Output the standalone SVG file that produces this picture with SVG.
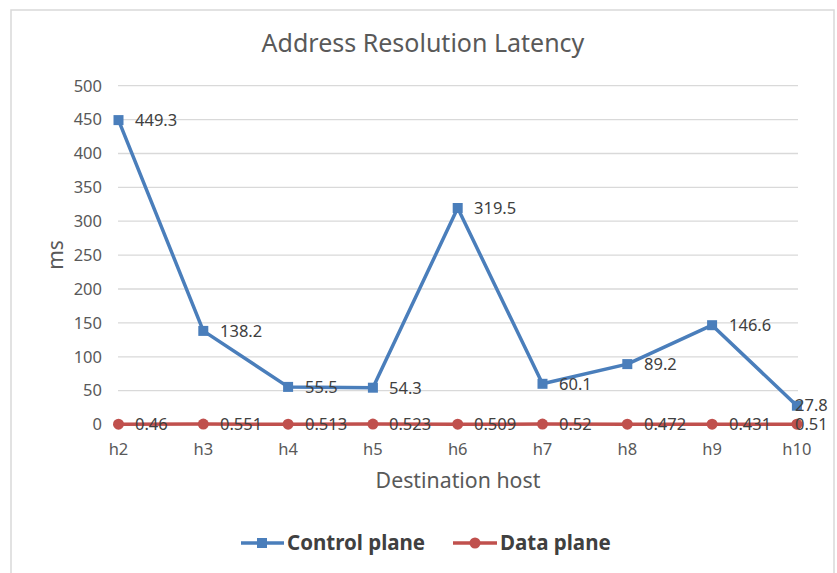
<svg xmlns="http://www.w3.org/2000/svg" width="837" height="573" viewBox="0 0 837 573">
  <defs>
    <style>
      text { font-family: "Noto Sans", "Open Sans", "Liberation Sans", sans-serif; fill: #595959; }
      .tick { font-size: 16.5px; }
      .ylab { text-anchor: end; }
      .xlab { text-anchor: middle; }
      .dl { font-size: 16.5px; fill: #404040; }
      .grid { stroke: #d9d9d9; stroke-width: 1.3; }
      .ctrl { fill: none; stroke: #4a7ebb; stroke-width: 3.5; stroke-linejoin: round; }
      .data { fill: none; stroke: #c0504d; stroke-width: 3.5; stroke-linejoin: round; }
      .sq { fill: #4a7ebb; }
      .dot { fill: #c0504d; }
      .leg { font-size: 20.5px; font-weight: bold; fill: #404040; }
    </style>
  </defs>

  <!-- chart area -->
  <rect x="0" y="0" width="837" height="573" fill="#ffffff"/>
  <rect x="11" y="10" width="823" height="600" fill="#ffffff" stroke="#d9d9d9" stroke-width="1.5"/>

  <text x="423" y="52" text-anchor="middle" font-size="25">Address Resolution Latency</text>

  <!-- gridlines -->
  <g id="grid">
    <line class="grid" x1="118" y1="85.7" x2="798" y2="85.7"/>
    <line class="grid" x1="118" y1="119.6" x2="798" y2="119.6"/>
    <line class="grid" x1="118" y1="153.5" x2="798" y2="153.5"/>
    <line class="grid" x1="118" y1="187.4" x2="798" y2="187.4"/>
    <line class="grid" x1="118" y1="221.2" x2="798" y2="221.2"/>
    <line class="grid" x1="118" y1="255.1" x2="798" y2="255.1"/>
    <line class="grid" x1="118" y1="289.0" x2="798" y2="289.0"/>
    <line class="grid" x1="118" y1="322.9" x2="798" y2="322.9"/>
    <line class="grid" x1="118" y1="356.8" x2="798" y2="356.8"/>
    <line class="grid" x1="118" y1="390.6" x2="798" y2="390.6"/>
    <line class="grid" x1="118" y1="424.5" x2="798" y2="424.5"/>
  </g>

  <!-- value axis -->
  <g id="y-axis" class="tick ylab">
    <text x="102" y="91.5">500</text>
    <text x="102" y="125.4">450</text>
    <text x="102" y="159.3">400</text>
    <text x="102" y="193.2">350</text>
    <text x="102" y="227.0">300</text>
    <text x="102" y="260.9">250</text>
    <text x="102" y="294.8">200</text>
    <text x="102" y="328.7">150</text>
    <text x="102" y="362.6">100</text>
    <text x="102" y="396.4">50</text>
    <text x="102" y="430.3">0</text>
  </g>
  <text transform="translate(63,255) rotate(-90)" text-anchor="middle" font-size="21">ms</text>

  <!-- category axis -->
  <g id="x-axis" class="tick xlab">
    <text x="118.5" y="455">h2</text>
    <text x="203.3" y="455">h3</text>
    <text x="288.1" y="455">h4</text>
    <text x="372.9" y="455">h5</text>
    <text x="457.7" y="455">h6</text>
    <text x="542.5" y="455">h7</text>
    <text x="627.3" y="455">h8</text>
    <text x="712.1" y="455">h9</text>
    <text x="796.9" y="455">h10</text>
  </g>
  <text x="458" y="488" text-anchor="middle" font-size="21.3">Destination host</text>

  <!-- series lines -->
  <g id="connectors">
    <polyline id="control-line" class="ctrl" points="118.5,120.1 203.3,330.9 288.1,386.9 372.9,387.7 457.7,208.0 542.5,383.8 627.3,364.1 712.1,325.2 796.9,405.7"/>
    <polyline id="data-line" class="data" points="118.5,424.2 203.3,424.1 288.1,424.2 372.9,424.1 457.7,424.2 542.5,424.1 627.3,424.2 712.1,424.2 796.9,424.2"/>
  </g>

  <!-- control plane points -->
  <g id="control-points">
    <g id="c-h2"><rect class="sq" x="113.5" y="115.1" width="10" height="10"/><text class="dl" x="135" y="126">449.3</text></g>
    <g id="c-h3"><rect class="sq" x="198.3" y="325.9" width="10" height="10"/><text class="dl" x="220" y="337">138.2</text></g>
    <g id="c-h4"><rect class="sq" x="283.1" y="381.9" width="10" height="10"/><text class="dl" x="305" y="393">55.5</text></g>
    <g id="c-h5"><rect class="sq" x="367.9" y="382.7" width="10" height="10"/><text class="dl" x="389" y="394">54.3</text></g>
    <g id="c-h6"><rect class="sq" x="452.7" y="203.0" width="10" height="10"/><text class="dl" x="474" y="214">319.5</text></g>
    <g id="c-h7"><rect class="sq" x="537.5" y="378.8" width="10" height="10"/><text class="dl" x="559" y="390">60.1</text></g>
    <g id="c-h8"><rect class="sq" x="622.3" y="359.1" width="10" height="10"/><text class="dl" x="644" y="370">89.2</text></g>
    <g id="c-h9"><rect class="sq" x="707.1" y="320.2" width="10" height="10"/><text class="dl" x="729" y="331">146.6</text></g>
    <g id="c-h10"><rect class="sq" x="791.9" y="400.7" width="10" height="10"/><text class="dl" x="795" y="411">27.8</text></g>
  </g>

  <!-- data plane points -->
  <g id="data-points">
    <g id="d-h2"><circle class="dot" cx="118.5" cy="424.2" r="5.5"/><text class="dl" x="135" y="430">0.46</text></g>
    <g id="d-h3"><circle class="dot" cx="203.3" cy="424.1" r="5.5"/><text class="dl" x="220" y="430">0.551</text></g>
    <g id="d-h4"><circle class="dot" cx="288.1" cy="424.2" r="5.5"/><text class="dl" x="305" y="430">0.513</text></g>
    <g id="d-h5"><circle class="dot" cx="372.9" cy="424.1" r="5.5"/><text class="dl" x="389" y="430">0.523</text></g>
    <g id="d-h6"><circle class="dot" cx="457.7" cy="424.2" r="5.5"/><text class="dl" x="474" y="430">0.509</text></g>
    <g id="d-h7"><circle class="dot" cx="542.5" cy="424.1" r="5.5"/><text class="dl" x="559" y="430">0.52</text></g>
    <g id="d-h8"><circle class="dot" cx="627.3" cy="424.2" r="5.5"/><text class="dl" x="644" y="430">0.472</text></g>
    <g id="d-h9"><circle class="dot" cx="712.1" cy="424.2" r="5.5"/><text class="dl" x="729" y="430">0.431</text></g>
    <g id="d-h10"><circle class="dot" cx="796.9" cy="424.2" r="5.5"/><text class="dl" x="795" y="430">0.51</text></g>
  </g>

  <!-- legend -->
  <g id="legend-control">
    <line class="ctrl" x1="241" y1="543" x2="284" y2="543"/>
    <rect class="sq" x="257" y="538" width="10" height="10"/>
    <text class="leg" x="287" y="550">Control plane</text>
  </g>
  <g id="legend-data">
    <line class="data" x1="453" y1="543" x2="497" y2="543"/>
    <circle class="dot" cx="475" cy="543" r="5.5"/>
    <text class="leg" x="500" y="550">Data plane</text>
  </g>
</svg>
